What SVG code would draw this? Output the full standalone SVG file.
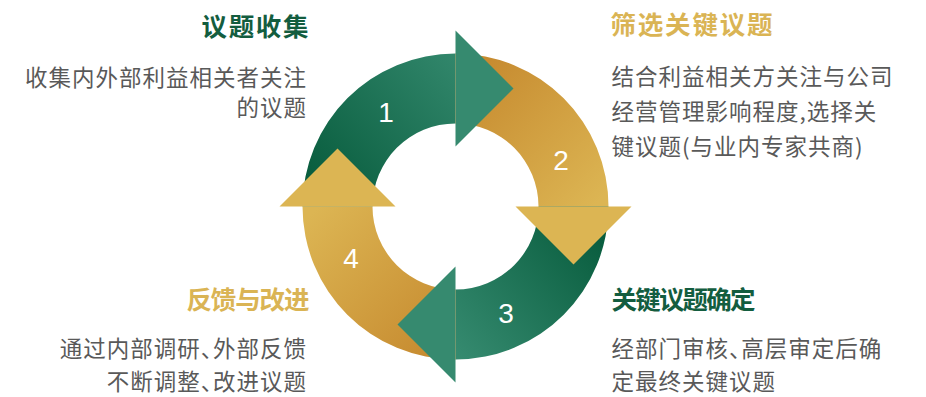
<svg xmlns="http://www.w3.org/2000/svg" width="926" height="397" viewBox="0 0 926 397">
<style>
.t{font-family:"Noto Sans CJK SC","Liberation Sans",sans-serif;font-weight:700;font-size:25.5px}
.tg{fill:#135d3f}
.ty{fill:#dab454}
.b{font-family:"Noto Sans CJK SC","Liberation Sans",sans-serif;font-size:22.5px;letter-spacing:1px;fill:#595959}
.h{font-feature-settings:"halt" 1}
.n{font-family:"Liberation Sans",Arial,sans-serif;font-size:28px;fill:#ffffff;text-anchor:middle}
.hg{fill:#368a6f}
.hy{fill:#dcb553}
</style>
<defs>
<linearGradient id="g1" gradientUnits="userSpaceOnUse" x1="315" y1="205" x2="480" y2="60"><stop offset="0" stop-color="#065a3b"/><stop offset="1" stop-color="#358a6f"/></linearGradient>
<linearGradient id="g2" gradientUnits="userSpaceOnUse" x1="470" y1="70" x2="600" y2="200"><stop offset="0" stop-color="#c68a2f"/><stop offset="1" stop-color="#dcb553"/></linearGradient>
<linearGradient id="g3" gradientUnits="userSpaceOnUse" x1="600" y1="215" x2="450" y2="345"><stop offset="0" stop-color="#065a3b"/><stop offset="1" stop-color="#358a6f"/></linearGradient>
<linearGradient id="g4" gradientUnits="userSpaceOnUse" x1="445" y1="350" x2="310" y2="215"><stop offset="0" stop-color="#c68a2f"/><stop offset="1" stop-color="#dcb553"/></linearGradient>
</defs>
<g id="cycle">
<g id="bands">
<path id="band-1" fill="url(#g1)" d="M302.5,206.5 A153,153 0 0 1 455.5,53.5 L455.5,123.5 A83,83 0 0 0 372.5,206.5 Z"/>
<path id="band-2" fill="url(#g2)" d="M455.5,53.5 A153,153 0 0 1 608.5,206.5 L538.5,206.5 A83,83 0 0 0 455.5,123.5 Z"/>
<path id="band-3" fill="url(#g3)" d="M608.5,206.5 A153,153 0 0 1 455.5,359.5 L455.5,289.5 A83,83 0 0 0 538.5,206.5 Z"/>
<path id="band-4" fill="url(#g4)" d="M455.5,359.5 A153,153 0 0 1 302.5,206.5 L372.5,206.5 A83,83 0 0 0 455.5,289.5 Z"/>
</g>
<g id="heads">
<polygon id="head-1" class="hg" points="455.5,30.5 513.5,88.5 455.5,146.5"/>
<polygon id="head-2" class="hy" points="515.5,206.5 631.5,206.5 573.5,264.5"/>
<polygon id="head-3" class="hg" points="455.5,266.5 455.5,382.5 397.5,324.5"/>
<polygon id="head-4" class="hy" points="279.5,206.5 395.5,206.5 337.5,148.5"/>
</g>
<g id="numbers">
<text class="n" x="386" y="121.7">1</text>
<text class="n" x="561" y="170">2</text>
<text class="n" x="506" y="322.5">3</text>
<text class="n" x="351" y="268">4</text>
</g>
</g>
<g id="stage-1" text-anchor="end">
<text class="t tg" x="308.5" y="35.5" textLength="107" lengthAdjust="spacing">议题收集</text>
<text class="b" x="307" y="85.7">收集内外部利益相关者关注</text>
<text class="b" x="307" y="115.7">的议题</text>
</g>
<g id="stage-2">
<text class="t ty" x="610.5" y="34" textLength="162" lengthAdjust="spacing">筛选关键议题</text>
<text class="b" x="611.5" y="84.5">结合利益相关方关注与公司</text>
<text class="b" x="611.5" y="120">经营管理影响程度,选择关</text>
<text class="b" x="611.5" y="155">键议题(与业内专家共商)</text>
</g>
<g id="stage-3">
<text class="t tg" x="611.5" y="308.5" textLength="144" lengthAdjust="spacing">关键议题确定</text>
<text class="b h" x="611.5" y="356.7">经部门审核、高层审定后确</text>
<text class="b" x="611.5" y="390">定最终关键议题</text>
</g>
<g id="stage-4" text-anchor="end">
<text class="t ty" x="309.5" y="308.5" textLength="123" lengthAdjust="spacing">反馈与改进</text>
<text class="b h" x="307" y="356.7">通过内部调研、外部反馈</text>
<text class="b h" x="307" y="390">不断调整、改进议题</text>
</g>
</svg>
